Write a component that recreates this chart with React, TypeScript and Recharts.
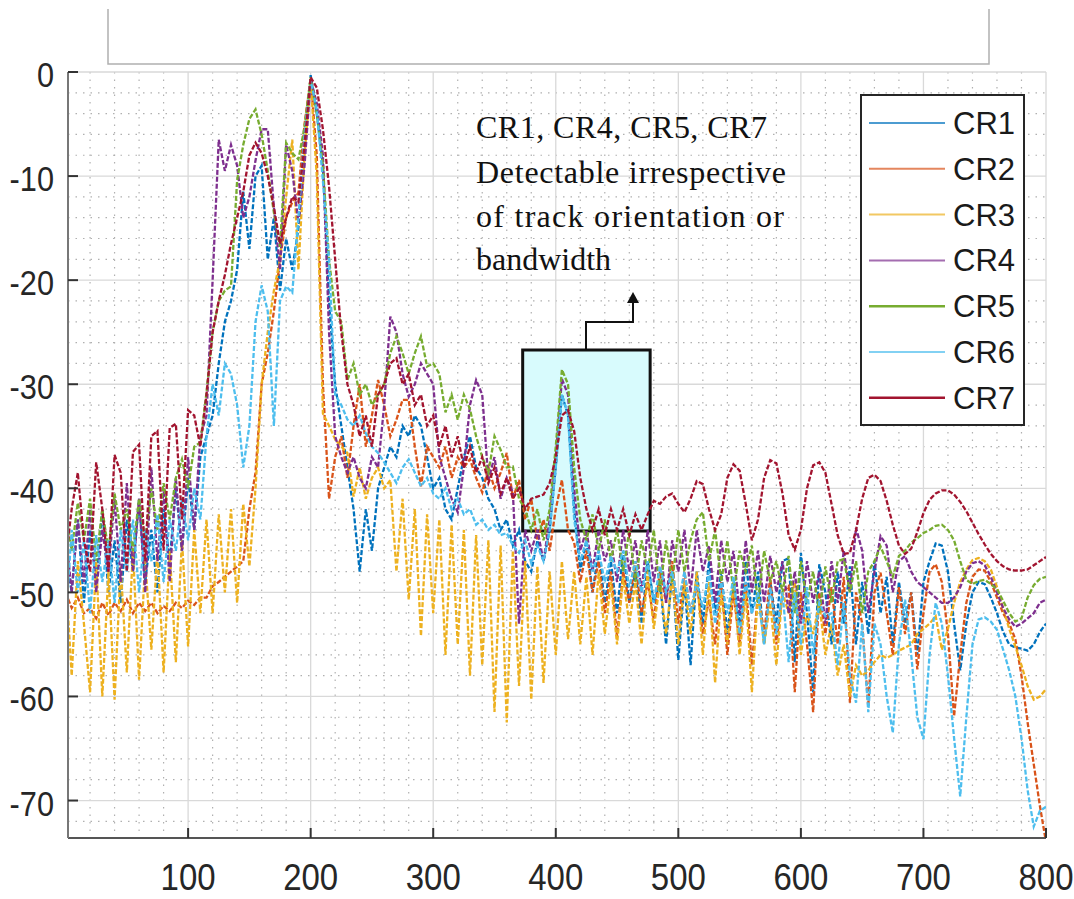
import React from 'react';
import { LineChart, Line, XAxis, YAxis, CartesianGrid, ReferenceArea } from 'recharts';

const X = [
  0, 5, 10, 15, 20, 25, 30, 35, 40, 45,
  50, 55, 60, 65, 70, 75, 80, 85, 90, 95,
  100, 105, 110, 115, 120, 125, 130, 135, 140, 145,
  150, 155, 160, 165, 170, 175, 180, 185, 190, 195,
  200, 205, 210, 215, 220, 225, 230, 235, 240, 245,
  250, 255, 260, 265, 270, 275, 280, 285, 290, 295,
  300, 305, 310, 315, 320, 325, 330, 335, 340, 345,
  350, 355, 360, 365, 370, 375, 380, 385, 390, 395,
  400, 405, 410, 415, 420, 425, 430, 435, 440, 445,
  450, 455, 460, 465, 470, 475, 480, 485, 490, 495,
  500, 505, 510, 515, 520, 525, 530, 535, 540, 545,
  550, 555, 560, 565, 570, 575, 580, 585, 590, 595,
  600, 605, 610, 615, 620, 625, 630, 635, 640, 645,
  650, 655, 660, 665, 670, 675, 680, 685, 690, 695,
  700, 705, 710, 715, 720, 725, 730, 735, 740, 745,
  750, 755, 760, 765, 770, 775, 780, 785, 790, 795,
  800,
];

const CR1 = [
  -46, -50, -43, -51, -44, -49, -42, -50, -45, -51,
  -43, -48, -41, -49, -44, -50, -42, -47, -40, -46,
  -39, -44, -37, -35, -33, -28, -24, -22, -19, -11.5,
  -17, -10, -9, -18, -14, -21, -16, -19, -15, -8,
  -0.3, -4, -9, -22, -30, -34, -38, -42, -48, -42,
  -46, -40, -38, -36, -37, -34, -35, -33, -34, -37,
  -40, -39, -42, -43, -40, -37, -35, -38, -39, -41,
  -42, -44, -43, -45.5, -44, -47, -48, -45, -47, -44,
  -38, -31, -33, -42, -48, -45, -50, -46, -51, -47,
  -52, -46, -51, -48, -53, -47, -51, -49, -55, -48,
  -56.5, -49, -57, -48, -53, -47, -52, -48, -54, -49,
  -53, -47, -52, -48, -55, -49, -53, -47, -46.7, -56.7,
  -46.2, -52, -59.6, -47.3, -50, -55, -48, -53, -47.5, -55,
  -49, -54, -47, -52, -48.5, -55, -49, -53, -50, -56,
  -49, -47, -45.3, -45.5, -48, -53, -57.5, -53, -50, -49,
  -49.2, -50.5, -52, -53.8, -55, -55.3, -55.4, -55.6, -55, -53.8,
  -53,
];

const CR2 = [
  -50, -51.5, -50.5, -52, -51.5, -52.5, -51, -52.2, -51, -51.8,
  -50.7, -52, -51, -51.8, -51, -52, -51.3, -51.8, -51, -51.5,
  -50.8, -51.2, -50.5, -50.5, -49.4, -49, -48.5, -48, -47.5, -47,
  -42, -38.5, -30, -27, -23, -18, -14, -12.5, -11.6, -5,
  -0.6, -8, -30, -41, -37, -35, -39, -34, -30, -36,
  -33, -29.6, -32, -35, -33.4, -31.5, -31.5, -36, -39.8, -36,
  -37, -38, -36, -39, -37, -38, -37.2, -39, -40.4, -38,
  -40, -38.5, -36.6, -41, -39.2, -43, -41, -45, -43, -46,
  -42, -39.2, -44, -45.2, -49, -46, -50, -47, -52, -48,
  -54.2, -48, -51, -47, -52, -49, -52.6, -48, -51, -47,
  -53, -48, -52, -49, -54, -50.7, -55, -49, -56, -50,
  -55, -49, -57, -50, -54, -48.5, -55, -50, -49.4, -59.6,
  -50, -55, -61.5, -50, -54, -49.5, -55, -48.5, -60.6, -50,
  -53, -61, -50, -48.1, -52, -56, -49.5, -54, -50, -57.4,
  -52, -48, -47.3, -49, -54, -61.9, -56, -51, -48.5, -47.8,
  -47.9, -49, -50.5, -52, -53, -54.5, -58, -62.5, -66.5, -70.5,
  -74,
];

const CR3 = [
  -48, -58, -47, -53, -59.6, -47, -60, -48, -60.3, -47.5,
  -57.7, -46, -58.4, -47, -55.5, -46, -57.7, -46, -56.7, -45,
  -55.2, -44, -52, -43, -52, -42.5, -50, -42, -51, -41.5,
  -47.5, -40, -30, -25, -21, -18, -12, -6.5, -19, -8,
  -0.8, -10, -32.8, -34, -35.3, -36, -36.6, -40.8, -38, -41,
  -39, -38, -40, -39.2, -48, -41, -50.7, -42, -54.2, -42.5,
  -52, -43, -56, -43.5, -55, -44, -58, -44.5, -57, -45,
  -61.5, -45.5, -62.5, -46, -59, -47, -60.3, -47.5, -58.7, -48,
  -56, -47, -54.5, -48, -55, -48.5, -56, -48, -54, -49,
  -55, -48.5, -53, -49, -55, -48, -53.5, -49, -54, -48.5,
  -55, -49, -54, -48, -56, -49, -58.7, -50, -55, -49,
  -56, -50, -59.6, -50, -55, -51, -57, -50, -52, -49,
  -56, -52, -54, -51, -56, -53, -58, -55, -60, -57,
  -58, -57.5, -56.7, -56, -56.3, -56, -55.6, -55.3, -55, -54,
  -53.5, -53, -52.3, -55.5, -53.5, -51, -49, -47.8, -46.9, -46.7,
  -47, -47.8, -49.5, -51.5, -53.5, -55.2, -57, -59, -60.3, -60,
  -59.3,
];

const CR4 = [
  -44, -50, -43, -49, -42, -50, -44, -48, -41, -49,
  -39.5, -48, -41, -50, -38, -47, -40, -49, -39, -46,
  -37, -44, -35, -33, -20, -6.5, -9.5, -7, -9, -14,
  -12, -8.5, -5.5, -5.5, -13, -19, -7, -9.5, -14.5, -9,
  -0.7, -3, -8, -25, -35, -37, -38.5, -37, -39, -40,
  -37, -38, -32, -23.5, -25, -29, -31.2, -30, -28, -29,
  -30, -37, -39, -41, -42.3, -38, -32, -29.6, -31, -39.2,
  -37, -41, -39, -40.4, -53, -44, -46, -44, -47, -43,
  -37, -29.5, -31, -40, -46, -44, -48, -44, -47, -45,
  -49, -44, -48, -45, -50, -44, -49, -45, -51, -45,
  -48, -44, -50, -44, -48, -45.5, -51, -45, -49, -46,
  -52, -45, -50, -46, -51, -46.5, -50, -47, -52, -48,
  -53, -47, -51, -48, -53, -47, -51, -46, -50, -43.8,
  -46, -52, -48, -44.6, -45.5, -50, -47, -46.5, -48, -49,
  -49.5, -50, -50.5, -51, -51, -50.5, -49.5, -48, -47.2, -47,
  -47.4, -48.5, -50, -51.5, -52.6, -53.3, -53, -52.5, -52, -51,
  -50.7,
];

const CR5 = [
  -42, -46, -41.4, -45, -41, -47, -42, -46, -40.5, -44,
  -42, -46, -41, -45, -40, -44, -39.5, -43, -39, -37.2,
  -40, -36, -35.6, -30.8, -25, -22, -21, -20.6, -10.4, -7,
  -4.5, -3.6, -6, -9.5, -13.5, -16.8, -6.8, -7.8, -8.4, -5.3,
  -0.5, -4, -9, -18, -23, -24, -29.6, -28, -31, -30,
  -32, -31, -30, -27, -25.4, -27, -29, -27, -25.4, -28.3,
  -28, -29, -32.7, -31, -33.4, -31, -32.4, -35, -37, -38.5,
  -35, -36.3, -38, -37.9, -41, -42, -44, -42, -45, -42,
  -36, -28.6, -30, -38, -43, -45, -42.5, -46, -43, -47,
  -44, -48, -44, -49, -45, -48, -44, -50, -45, -49,
  -44, -48, -45, -43, -42.3, -47, -44, -49, -45, -50,
  -46, -48, -45.5, -51, -46, -49, -47, -50, -46.5, -52,
  -47, -51, -48, -52, -47.5, -51, -47, -46.8, -50, -47,
  -52, -48, -47, -45.6, -47, -48.5, -46.5, -46, -45.2, -44.8,
  -44.3, -44, -43.6, -43.5, -44, -45, -47, -48.8, -49.2, -48.9,
  -48.8, -49.2, -49.7, -50.8, -52, -52.8, -52.5, -50.5, -49.3, -48.7,
  -48.5,
];

const CR6 = [
  -53, -44, -50, -45, -52, -44.5, -49, -45, -51, -44,
  -48, -43, -50, -44, -47, -42.5, -49, -43, -46, -41,
  -45, -40, -43, -35, -30, -33, -28, -29, -32, -38,
  -34, -24, -20.5, -23, -34, -22, -20.6, -21.2, -14, -6,
  -0.8, -3.6, -10.5, -18, -31, -32, -33.4, -34, -33, -34.7,
  -36, -36.6, -37.5, -38.5, -39.5, -38, -37.2, -38.5, -39.8, -39,
  -40.5, -41, -40, -42, -41, -42.5, -42, -43.5, -43, -44,
  -43.5, -44.5, -44.3, -45.5, -46.2, -45, -47.2, -45.5, -47, -44,
  -38, -31, -33, -43, -47, -45, -48, -46, -49, -46.5,
  -48, -46, -49.5, -47, -50, -47, -51, -47.5, -50, -48,
  -51, -48, -52, -49, -51.5, -48, -53, -49, -52, -48.5,
  -54, -49, -52, -50, -55, -49.5, -54, -50, -56.7, -50,
  -55, -49.5, -56, -51, -52.3, -52, -57, -51, -58, -60.6,
  -53, -61.5, -53, -55, -60, -63.5, -55, -50.7, -56, -62,
  -64.1, -56, -51, -53, -58, -64, -69.6, -62, -55, -52.6,
  -52.4, -52.8, -53.6, -55.5, -57.5, -60, -64, -69, -72.5, -71,
  -70.6,
];

const CR7 = [
  -47, -42, -38.5, -45, -48, -37.5, -42, -48, -36.8, -38.5,
  -48, -36.5, -35.8, -47, -35, -34.5, -46, -34.2, -33.8, -43,
  -32.5, -33, -36, -31, -25, -22, -19.5, -16.5, -14, -11.5,
  -8, -6.8, -7.8, -10, -13, -16.5, -14, -12, -12.5, -7,
  -0.5, -1.5, -5.5, -11, -18, -25, -30, -32, -35, -33,
  -36, -31, -30, -28, -27.5, -30, -29, -32, -31, -34,
  -33, -36, -34, -37, -35, -38, -36, -38.5, -37, -39.5,
  -38, -40.5, -39, -41, -40, -42, -41, -40.8, -40.6, -39.5,
  -37, -33, -32.5, -34.5, -39, -42, -44, -42, -44.5, -42,
  -44, -42, -44.5, -42.5, -44, -42.5, -41.2, -41.5, -40.8, -40.5,
  -41.5, -42.3, -41, -39.3, -39.6, -42, -44, -42.5, -39, -37.7,
  -38.3, -41.5, -45, -43, -39, -37.3, -37.6, -40.5, -44.5, -45.9,
  -44, -40, -37.8, -37.5, -38.5, -41.5, -44.5, -46.3, -46.2, -44,
  -41, -39, -38.7, -39.3, -41.2, -43.5, -45.5, -46.3, -45.8, -44.2,
  -42.4, -41.1, -40.5, -40.2, -40.2, -40.6, -41.3, -42.2, -43.3, -44.4,
  -45.4, -46.3, -47, -47.5, -47.8, -47.9, -47.9, -47.8, -47.4, -47,
  -46.6,
];

const SERIES_NAMES = ['CR1', 'CR2', 'CR3', 'CR4', 'CR5', 'CR6', 'CR7'];
const SERIES_VALUES = [CR1, CR2, CR3, CR4, CR5, CR6, CR7];
const COLORS = ['#0072BD', '#D95319', '#EDB120', '#7E2F8E', '#77AC30', '#4DBEEE', '#A2142F'];

const X_TICKS = [100, 200, 300, 400, 500, 600, 700, 800];
const Y_TICKS = [-70, -60, -50, -40, -30, -20, -10, 0];
const X_MINOR = [20, 40, 60, 80, 120, 140, 160, 180, 220, 240, 260, 280, 320, 340, 360, 380, 420, 440, 460, 480, 520, 540, 560, 580, 620, 640, 660, 680, 720, 740, 760, 780];
const Y_MINOR = [-2, -4, -6, -8, -12, -14, -16, -18, -22, -24, -26, -28, -32, -34, -36, -38, -42, -44, -46, -48, -52, -54, -56, -58, -62, -64, -66, -68, -72];

const NOTE_LINES = ['CR1, CR4, CR5, CR7', 'Detectable irrespective', 'of track orientation or', 'bandwidth'];

const data = X.map((x, i) => {
  const row: Record<string, number> = { x };
  SERIES_NAMES.forEach((n, k) => {
    row[n] = SERIES_VALUES[k][i];
  });
  return row;
});

const W = 1074;
const H = 899;
const SANS = 'Liberation Sans, Arial, Helvetica, sans-serif';
const SERIF = 'Liberation Serif, Times New Roman, serif';

const BottomTick = (props: any) => {
  const { x, y, payload } = props;
  return (
    <g>
      <line x1={x} y1={y} x2={x} y2={y - 10} stroke="#333" strokeWidth={2} />
      <text
        transform={`translate(${x},${y + 52}) scale(0.97,1.1)`}
        textAnchor="middle"
        fontSize={34}
        fontFamily={SANS}
        fill="#262626"
      >
        {payload.value}
      </text>
    </g>
  );
};

const TopTick = (props: any) => {
  const { x, y } = props;
  return <line x1={x} y1={y} x2={x} y2={y + 10} stroke="#333" strokeWidth={2} />;
};

const LeftTick = (props: any) => {
  const { x, y, payload } = props;
  return (
    <g>
      <line x1={x} y1={y} x2={x + 10} y2={y} stroke="#333" strokeWidth={2} />
      <text
        transform={`translate(${x - 14},${y + 15}) scale(0.96,1.12)`}
        textAnchor="end"
        fontSize={32}
        fontFamily={SANS}
        fill="#262626"
      >
        {payload.value}
      </text>
    </g>
  );
};

const RightTick = (props: any) => {
  const { x, y } = props;
  return <line x1={x} y1={y} x2={x - 10} y2={y} stroke="#333" strokeWidth={2} />;
};

export default function App() {
  return (
    <div style={{ position: 'fixed', left: 0, top: 0, width: W, height: H, background: '#fff' }}>
      <LineChart width={W} height={H} data={data} margin={{ top: 72, right: 28, bottom: 6, left: 0 }}>
        <CartesianGrid
          horizontalValues={Y_MINOR}
          verticalValues={X_MINOR}
          stroke="#b0b0b0"
          strokeWidth={1.2}
          strokeDasharray="1.5 6"
        />
        <CartesianGrid stroke="#d9d9d9" strokeWidth={1.3} />
        <XAxis
          dataKey="x"
          type="number"
          domain={[2, 800]}
          ticks={X_TICKS}
          allowDataOverflow
          height={55}
          tickSize={0}
          tickMargin={0}
          tickLine={false}
          tick={<BottomTick />}
          axisLine={{ stroke: '#555', strokeWidth: 2 }}
          interval={0}
        />
        <XAxis
          xAxisId="top"
          orientation="top"
          dataKey="x"
          type="number"
          domain={[2, 800]}
          ticks={X_TICKS}
          allowDataOverflow
          height={0}
          tickSize={0}
          tickMargin={0}
          tickLine={false}
          tick={<TopTick />}
          axisLine={{ stroke: '#333', strokeWidth: 2.5 }}
          interval={0}
        />
        <YAxis
          type="number"
          domain={[-73.6, 0]}
          ticks={Y_TICKS}
          allowDataOverflow
          width={68}
          tickSize={0}
          tickMargin={0}
          tickLine={false}
          tick={<LeftTick />}
          axisLine={{ stroke: '#777', strokeWidth: 2 }}
          interval={0}
        />
        <YAxis
          yAxisId="right"
          orientation="right"
          type="number"
          domain={[-73.6, 0]}
          ticks={Y_TICKS}
          allowDataOverflow
          width={0}
          tickSize={0}
          tickMargin={0}
          tickLine={false}
          tick={<RightTick />}
          axisLine={{ stroke: '#333', strokeWidth: 2 }}
          interval={0}
        />
        <ReferenceArea
          x1={373}
          x2={477}
          y1={-44.1}
          y2={-26.7}
          fill="#d8fbfd"
          fillOpacity={1}
          stroke="#111"
          strokeWidth={3}
        />
        {SERIES_NAMES.map((n, k) => (
          <Line
            key={n}
            type="linear"
            dataKey={n}
            stroke={COLORS[k]}
            strokeWidth={2.3}
            strokeDasharray="5 2"
            dot={false}
            activeDot={false}
            isAnimationActive={false}
          />
        ))}
      </LineChart>
      <svg
        width={W}
        height={H}
        style={{ position: 'absolute', left: 0, top: 0, pointerEvents: 'none' }}
      >
        <path d="M108,9 V64 H989 V9" fill="none" stroke="#b0b0b0" strokeWidth={1.5} />
        <g fontFamily={SERIF} fontSize={32} fill="#111">
          <text x={476} y={138} textLength={291} lengthAdjust="spacing">{NOTE_LINES[0]}</text>
          <text x={476} y={183} textLength={310} lengthAdjust="spacing">{NOTE_LINES[1]}</text>
          <text x={476} y={227} textLength={308} lengthAdjust="spacing">{NOTE_LINES[2]}</text>
          <text x={476} y={270}>{NOTE_LINES[3]}</text>
        </g>
        <polyline points="586,350 586,322 633,322 633,302" fill="none" stroke="#111" strokeWidth={2} />
        <polygon points="627,303 639,303 633,292" fill="#111" />
        <rect x={861} y={95} width={163} height={330} fill="#fff" stroke="#262626" strokeWidth={2} />
        {SERIES_NAMES.map((n, k) => {
          const cy = 123 + 45.8 * k;
          return (
            <g key={n}>
              <line
                x1={869}
                y1={cy}
                x2={945}
                y2={cy}
                stroke={COLORS[k]}
                strokeWidth={k === 4 || k === 6 ? 2.5 : 2}
                strokeOpacity={k === 4 || k === 6 ? 1 : 0.7}
              />
              <text x={953} y={cy + 11} fontFamily={SANS} fontSize={31} fill="#1a1a1a">
                {n}
              </text>
            </g>
          );
        })}
      </svg>
    </div>
  );
}
